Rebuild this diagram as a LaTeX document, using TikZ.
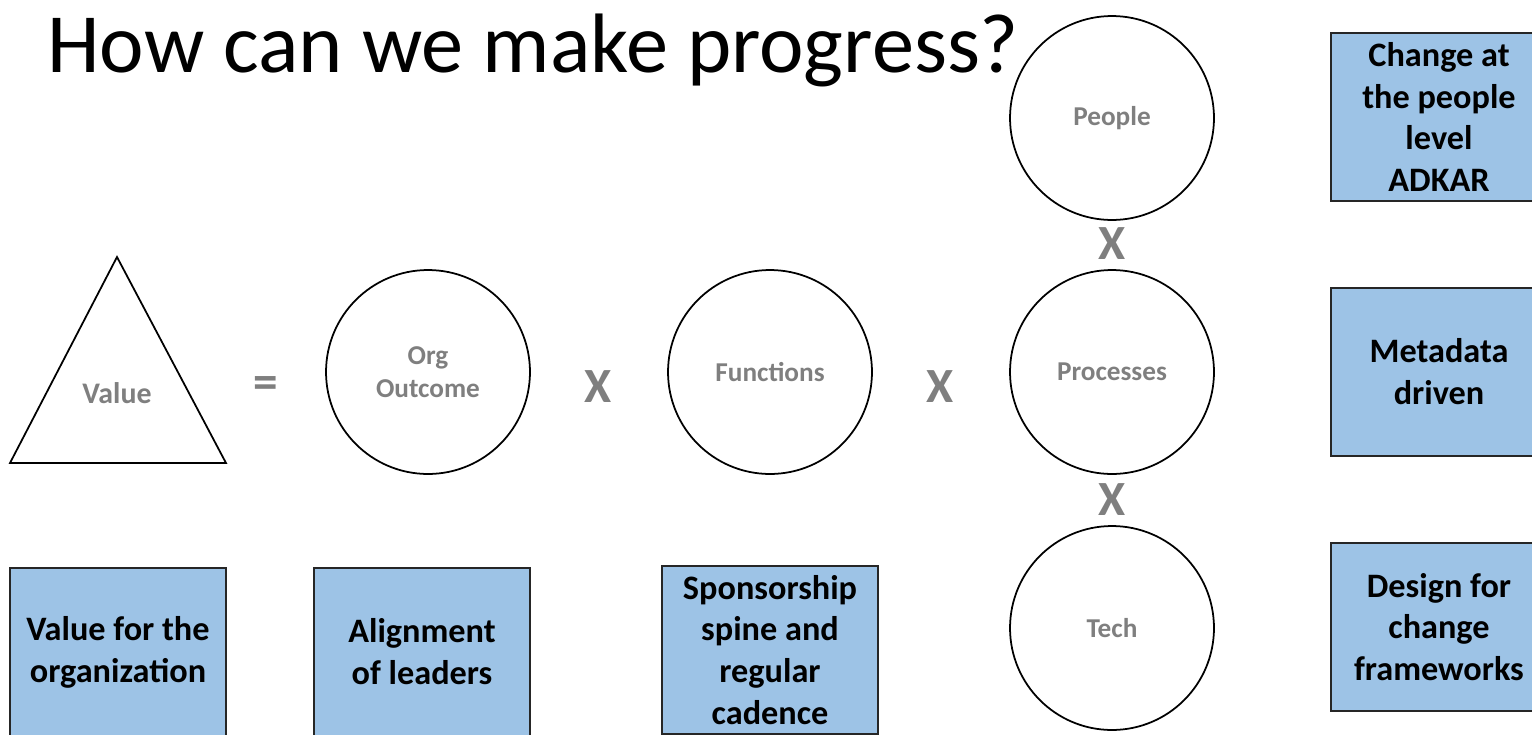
\documentclass[tikz,border=0pt]{standalone}
\usepackage{fontspec}
\setmainfont{Carlito}
\usepackage{xcolor}
\usepackage{tikz}

\definecolor{leverblue}{HTML}{9DC3E6}
\definecolor{factorgray}{HTML}{7F7F7F}

\begin{document}
\begin{tikzpicture}[x=0.02cm,y=-0.02cm,
		factor/.style={circle,draw,line width=1pt,minimum size=4.08cm,inner sep=0pt,align=center,
			text=factorgray,font=\fontsize{15.5}{18.5}\selectfont\bfseries},
		times/.style={text=factorgray,font=\fontsize{28}{30}\selectfont\bfseries},
		lever/.style={draw=black!85,line width=0.9pt,fill=leverblue,minimum width=4.32cm,minimum height=3.36cm,
			inner sep=0pt,align=center,font=\fontsize{19.5}{23.8}\selectfont\bfseries}]
			\useasboundingbox (0,0) rectangle (1532,734);
			\clip (0,0) rectangle (1532,734);

			% title
			\node[anchor=base west,inner sep=0pt,font=\fontsize{48}{50}\selectfont] (title) at (47,72) {How can we make progress?};

			% value = outcome x functions x (people x processes x tech)
			\coordinate (apex) at (117,257);
			\coordinate (baseL) at (10,463);
			\coordinate (baseR) at (226,463);
			\draw[line width=1pt,line join=miter] (apex) -- (baseR) -- (baseL) -- cycle;
			\node[text=factorgray,font=\fontsize{17}{20}\selectfont\bfseries] (value) at (117,393) {Value};
			\node[times] (eq) at (266,388) {=};

			\node[factor] (outcome) at (428,372) {Org\\Outcome};
			\node[times] (x1) at (598,387) {X};
			\node[factor] (functions) at (770,372) {Functions};
			\node[times] (x2) at (940,387) {X};
			\node[factor] (processes) at (1112,372) {Processes};
			\node[factor] (people) at (1112,118) {People};
			\node[times] (x3) at (1112,244) {X};
			\node[factor] (tech) at (1112,628) {Tech};
			\node[times] (x4) at (1112,500) {X};

			% levers
			\node[lever] (orgvalue) at (118,652) {Value for the\\organization};
			\node[lever] (leaders) at (422,652) {Alignment\\of leaders};
			\node[lever] (sponsor) at (770,650) {Sponsorship\\spine and\\regular\\cadence};
			\node[lever] (adkar) at (1439,117) {Change at\\the people\\level\\ADKAR};
			\node[lever] (metadata) at (1439,372) {Metadata\\driven};
			\node[lever] (frameworks) at (1439,627) {Design for\\change\\frameworks};
		\end{tikzpicture}
\end{document}
